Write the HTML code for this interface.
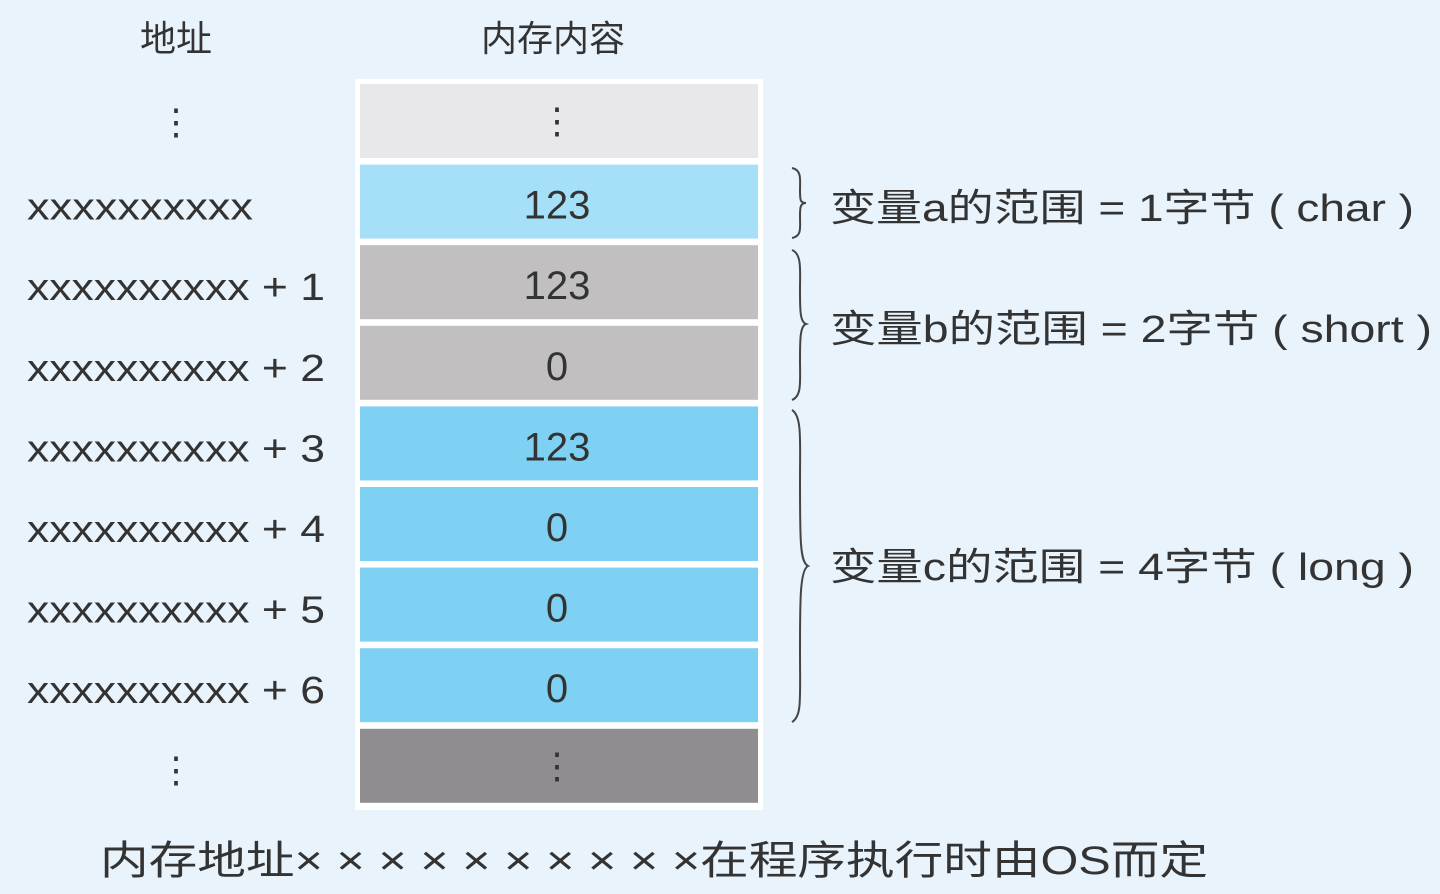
<!DOCTYPE html>
<html><head><meta charset="utf-8"><style>
html,body{margin:0;padding:0;background:#e9f3fb;}
svg{display:block;font-family:"Liberation Sans","Noto Sans CJK SC",sans-serif;}
</style></head><body>
<svg id="chart" width="1440" height="894" viewBox="0 0 1440 894" xmlns="http://www.w3.org/2000/svg">
<rect x="0" y="0" width="1440" height="894" fill="#e9f3fb"/>
<text x="176" y="51" font-size="36" fill="#333" text-anchor="middle">地址</text>
<text x="553" y="51" font-size="36" fill="#333" text-anchor="middle">内存内容</text>
<rect x="355" y="79" width="408" height="731" fill="#ffffff"/>
<g id="cells"></g>
<g id="addrs"></g>
<text x="176" y="134" font-size="36" fill="#333" text-anchor="middle">⋮</text>
<text x="176" y="782" font-size="36" fill="#333" text-anchor="middle">⋮</text>
<g fill="none" stroke="#444" stroke-width="2">
<path d="M792,168 C802,170 800,180 800,190 C800,200 800,203 806,203 C800,203 800,208 800,216 C800,228 802,236 792,238"/>
<path d="M792,250 C802,254 800,270 800,290 C800,310 800,322 806,324 C800,326 800,340 800,360 C800,382 802,396 792,400"/>
<path d="M792,410 C802,416 800,440 800,480 C800,540 800,562 808,566 C800,570 800,600 800,650 C800,700 802,716 792,722"/>
</g>
<text x="830" y="221" font-size="38" fill="#333" textLength="584" lengthAdjust="spacingAndGlyphs">变量a的范围 = 1字节 ( char )</text>
<text x="830" y="342" font-size="38" fill="#333" textLength="602" lengthAdjust="spacingAndGlyphs">变量b的范围 = 2字节 ( short )</text>
<text x="830" y="580" font-size="38" fill="#333" textLength="584" lengthAdjust="spacingAndGlyphs">变量c的范围 = 4字节 ( long )</text>
<text x="100" y="874" font-size="40" fill="#333" textLength="1108" lengthAdjust="spacingAndGlyphs">内存地址× × × × × × × × × ×在程序执行时由OS而定</text>
</svg>
<script>
const cellValues = ['⋮','123','123','0','123','0','0','0','⋮'];
const cellGroups = ['other','a','b','b','c','c','c','c','other2'];
const addrLabels = ['','xxxxxxxxxx','xxxxxxxxxx + 1','xxxxxxxxxx + 2','xxxxxxxxxx + 3','xxxxxxxxxx + 4','xxxxxxxxxx + 5','xxxxxxxxxx + 6',''];
const colors = {other:'#e8e8ea',a:'#a6e0f8',b:'#c1bfc0',c:'#7fd1f4',other2:'#8f8d90'};
const NS='http://www.w3.org/2000/svg';
const top0=84, pitch=80.6, h=74;
const rowY = i => top0 + i*pitch;
const cg=document.getElementById('cells'), ag=document.getElementById('addrs');
cellValues.forEach((v,i)=>{
  const r=document.createElementNS(NS,'rect');
  r.setAttribute('x',360);r.setAttribute('y',rowY(i));r.setAttribute('width',398);r.setAttribute('height',h);
  r.setAttribute('fill',colors[cellGroups[i]]);
  
  
  cg.appendChild(r);
  const t=document.createElementNS(NS,'text');
  t.setAttribute('x',557);t.setAttribute('y',rowY(i)+h/2+(v==='⋮'?12:17));
  t.setAttribute('font-size',v==='⋮'?36:40);t.setAttribute('fill','#333');t.setAttribute('text-anchor','middle');
  t.textContent=v;
  
  
  cg.appendChild(t);
  if(addrLabels[i]){
    const a=document.createElementNS(NS,'text');
    a.setAttribute('x',27);a.setAttribute('y',rowY(i)+h/2+18);
    a.setAttribute('font-size',38);a.setAttribute('fill','#333');
    const len = addrLabels[i].length>10 ? 298 : 226;
    a.setAttribute('textLength',len);a.setAttribute('lengthAdjust','spacingAndGlyphs');
    a.textContent=addrLabels[i];
    
    
    ag.appendChild(a);
  }
});
</script>
</body></html>
